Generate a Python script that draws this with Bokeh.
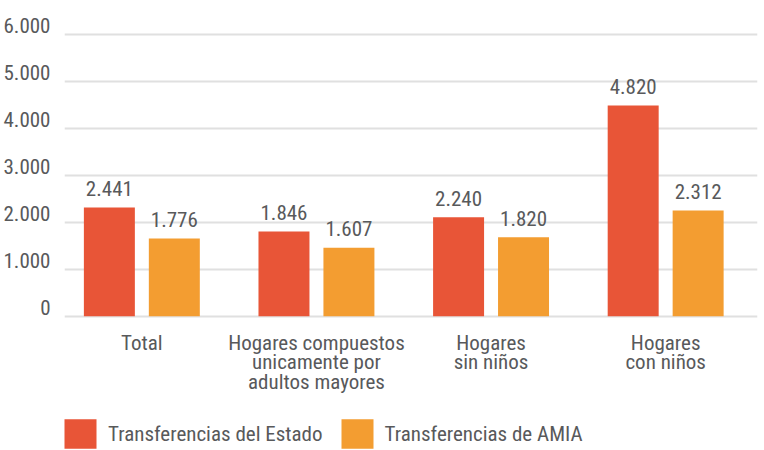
from bokeh.plotting import figure
from bokeh.models import (FixedTicker, Range1d, LinearAxis, Grid, Legend, LegendItem,
                          ColumnDataSource)
from bokeh.transform import dodge
from bokeh.embed import file_html
from bokeh.resources import INLINE
from bokeh.core.properties import value

# ---- data ----
categories = ["Total",
              "Hogares compuestos\nunicamente por\nadultos mayores",
              "Hogares\nsin niños",
              "Hogares\ncon niños"]
series_names = ["Transferencias del Estado", "Transferencias de AMIA"]
estado_bar = [2318, 1806, 2111, 4493]
amia_bar = [1657, 1458, 1684, 2254]
estado_labels = ["2.441", "1.846", "2.240", "4.820"]
amia_labels = ["1.776", "1.607", "1.820", "2.312"]
y_ticks = [0, 1000, 2000, 3000, 4000, 5000, 6000]
y_tick_labels = ["0", "1.000", "2.000", "3.000", "4.000", "5.000", "6.000"]
colors = ["#E85537", "#F39D31"]

FONT = "'Roboto Condensed', 'DejaVu Sans Condensed', 'Liberation Sans Narrow', Roboto, sans-serif"
TEXT = "#58595B"
FS = "21px"

Y0, Y1 = -2864, 6220
p = figure(width=764, height=450, output_backend="svg", toolbar_location=None,
           x_range=Range1d(-0.443, 3.526), y_range=Range1d(Y0, Y1),
           y_axis_location=None, x_axis_location=None,
           min_border_left=64, min_border_right=7, min_border_top=24, min_border_bottom=0)
p.outline_line_color = None
p.background_fill_color = "white"
p.grid.visible = False

ygrid = Grid(dimension=1, ticker=FixedTicker(ticks=y_ticks),
             grid_line_color="#E0E0E0", grid_line_width=2)
p.add_layout(ygrid)

# y tick labels (slightly raised above their gridline, as in the reference)
p.extra_y_ranges = {"lbl": Range1d(Y0 - 195, Y1 - 195)}
yaxis = LinearAxis(y_range_name="lbl", ticker=FixedTicker(ticks=y_ticks),
                   major_label_overrides={t: l for t, l in zip(y_ticks, y_tick_labels)},
                   axis_line_color=None, major_tick_line_color=None,
                   minor_tick_line_color=None, major_tick_out=0, major_tick_in=0,
                   major_label_standoff=14, major_label_text_font=FONT,
                   major_label_text_font_size=FS, major_label_text_color=TEXT)
p.add_layout(yaxis, "left")

src = ColumnDataSource(dict(x=list(range(len(categories))), base=[0] * len(categories),
                            cat=categories, estado=estado_bar, amia=amia_bar,
                            estado_lbl=estado_labels, amia_lbl=amia_labels))

off = 0.186
bw = 0.292
r1 = p.vbar(x=dodge('x', -off, range=p.x_range), top='estado', width=bw, source=src,
            fill_color=colors[0], line_color=None)
r2 = p.vbar(x=dodge('x', off, range=p.x_range), top='amia', width=bw, source=src,
            fill_color=colors[1], line_color=None)

for xoff, col in [(-off, 'estado'), (off, 'amia')]:
    p.text(x=dodge('x', xoff, range=p.x_range), y=col, text=col + '_lbl', source=src,
           text_align='center', text_baseline='alphabetic', y_offset=-19,
           text_font=value(FONT), text_font_size=value(FS), text_color=TEXT)

# category labels under the baseline
p.text(x='x', y='base', text='cat', source=src, text_align='center', text_baseline='top',
       y_offset=15, text_line_height=0.8,
       text_font=value(FONT), text_font_size=value(FS), text_color=TEXT)

legend = Legend(items=[LegendItem(label=series_names[0], renderers=[r1]),
                       LegendItem(label=series_names[1], renderers=[r2])],
                orientation="horizontal", location=(-4, -2),
                glyph_width=40, glyph_height=37, label_standoff=8, spacing=14,
                padding=0, margin=0, border_line_color=None, background_fill_alpha=0,
                label_text_font=FONT, label_text_font_size=FS, label_text_color=TEXT)
p.add_layout(legend)

open("out.html", "w").write(file_html(p, INLINE))
